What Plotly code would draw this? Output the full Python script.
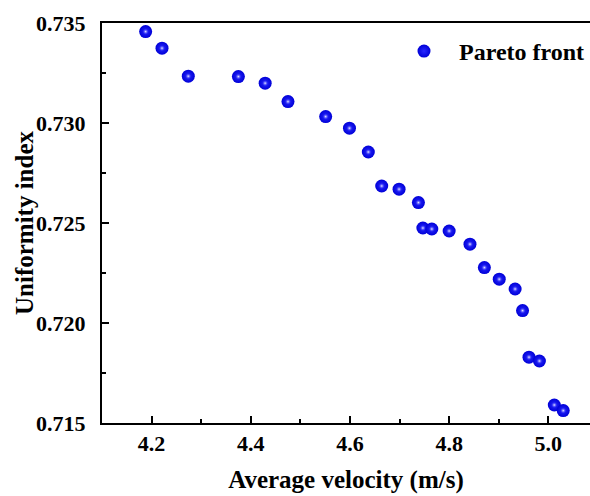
import plotly.graph_objects as go

avg_velocity = [4.188, 4.221, 4.274, 4.375, 4.429, 4.475, 4.551, 4.599, 4.637, 4.664,
                4.699, 4.738, 4.747, 4.765, 4.800, 4.842, 4.871, 4.901, 4.933, 4.948,
                4.961, 4.982, 5.012, 5.030]
uniformity = [0.73457, 0.73374, 0.73234, 0.73232, 0.73199, 0.73107, 0.73032, 0.72974,
              0.72855, 0.72685, 0.72669, 0.72602, 0.72475, 0.72470, 0.72460, 0.72394,
              0.72277, 0.72219, 0.72170, 0.72062, 0.71829, 0.71810, 0.71590, 0.71562]

x_ticks = [4.2, 4.4, 4.6, 4.8, 5.0]
x_ticklabels = ["4.2", "4.4", "4.6", "4.8", "5.0"]
y_ticks = [0.715, 0.720, 0.725, 0.730, 0.735]
y_ticklabels = ["0.715", "0.720", "0.725", "0.730", "0.735"]

FONT = "Liberation Serif, Times New Roman, serif"
W, H = 590, 496
ML, MR, MT, MB = 102, 0, 23, 73

fig = go.Figure()
fig.add_trace(go.Scatter(
    x=avg_velocity, y=uniformity, mode="markers", name="Pareto front",
    marker=dict(size=13, color="rgb(0,0,215)",
                gradient=dict(type="radial", color="rgb(40,40,255)"),
                line=dict(width=0)),
))
fig.add_trace(go.Scatter(
    x=avg_velocity, y=uniformity, mode="markers", showlegend=False, hoverinfo="skip",
    marker=dict(size=6, color="rgba(60,60,255,0)",
                gradient=dict(type="radial", color="rgb(235,235,255)"),
                line=dict(width=0)),
))

fig.update_layout(
    width=W, height=H,
    margin=dict(l=ML, r=MR, t=MT, b=MB, autoexpand=False),
    paper_bgcolor="white", plot_bgcolor="white",
    font=dict(family=FONT, size=22, color="black", weight="bold"),
    showlegend=True,
    legend=dict(x=1, xanchor="right", y=0.985, yanchor="top",
                bgcolor="rgba(0,0,0,0)", font=dict(family=FONT, size=24, weight="bold"),
                itemwidth=60),
    xaxis=dict(
        range=[4.1, 5.084], tickmode="array", tickvals=x_ticks, ticktext=x_ticklabels,
        ticks="inside", ticklen=7, tickwidth=2, tickcolor="black",
        showline=True, linewidth=2, linecolor="black", mirror=True,
        showgrid=False, zeroline=False, automargin=False,
        minor=dict(ticks="inside", ticklen=4, tickwidth=2, tickcolor="black", dtick=0.1, tick0=4.1),
        tickfont=dict(family=FONT, size=22, weight="bold"),
        title=dict(text="Average velocity (m/s)", font=dict(family=FONT, size=25, weight="bold"), standoff=15),
    ),
    yaxis=dict(
        range=[0.715, 0.735], tickmode="array", tickvals=y_ticks, ticktext=y_ticklabels,
        ticks="inside", ticklen=7, tickwidth=2, tickcolor="black",
        showline=True, linewidth=2, linecolor="black", mirror=False,
        showgrid=False, zeroline=False, automargin=False,
        minor=dict(ticks="inside", ticklen=4, tickwidth=2, tickcolor="black", dtick=0.0025, tick0=0.715),
        tickfont=dict(family=FONT, size=22, weight="bold"),
        ticklabelstandoff=10,
    ),
    annotations=[dict(
        text="Uniformity index", textangle=-90, showarrow=False,
        xref="paper", yref="paper", x=(24 - ML) / (W - ML - MR), y=0.5,
        xanchor="center", yanchor="middle",
        font=dict(family=FONT, size=25, weight="bold", color="black"),
    )],
)

fig.write_html("out.html")
